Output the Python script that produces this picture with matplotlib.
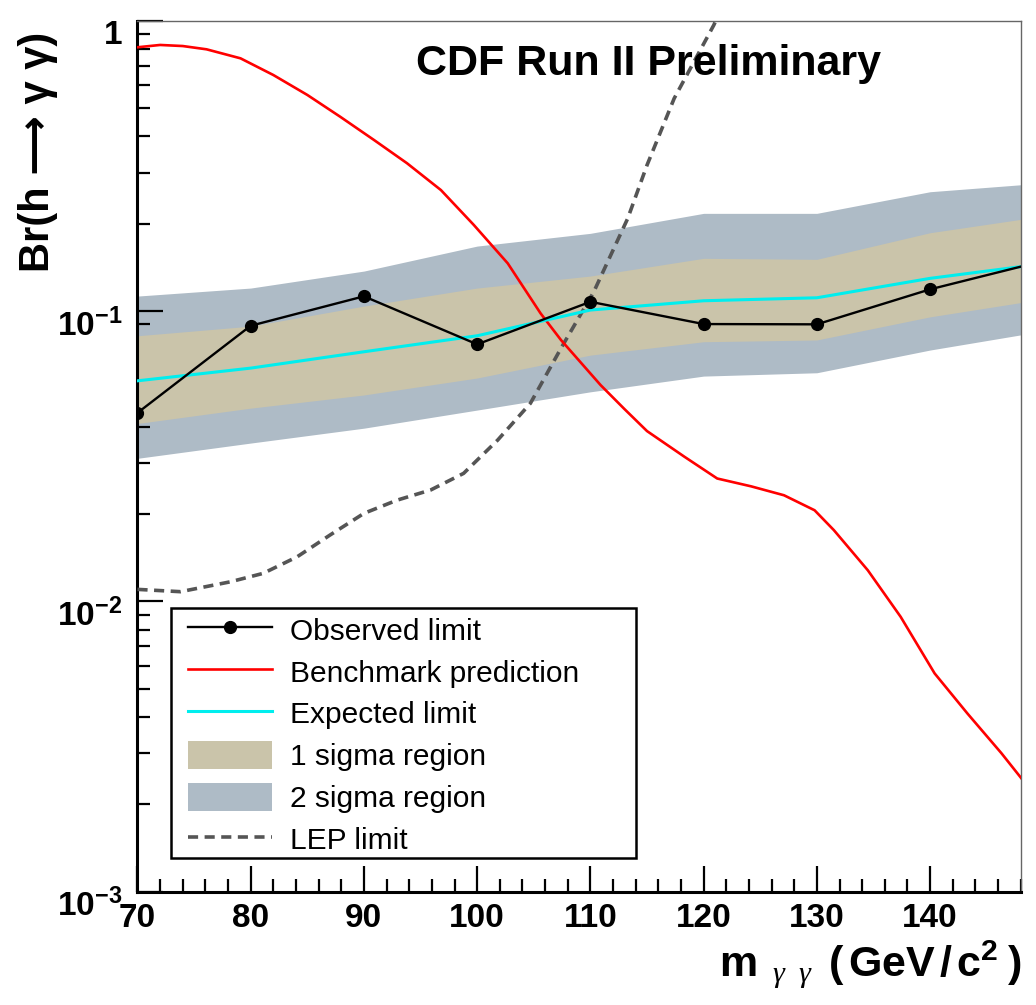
import matplotlib
matplotlib.use('Agg')
from matplotlib import pyplot as plt
from matplotlib import ticker, transforms
from matplotlib.patches import Rectangle
import numpy as np

plt.rcParams['font.family'] = ['Liberation Sans', 'DejaVu Sans']
plt.rcParams['mathtext.fontset'] = 'custom'
plt.rcParams['mathtext.rm'] = 'Liberation Sans'
plt.rcParams['mathtext.bf'] = 'Liberation Sans:bold'
plt.rcParams['mathtext.it'] = 'Liberation Serif:italic'

# limits read at the 10 GeV points (150 lies just past the right edge)
mass = [70, 80, 90, 100, 110, 120, 130, 140, 150]
observed = [0.0446, 0.0890, 0.1124, 0.0768, 0.1076, 0.0902, 0.0900, 0.1188, 0.1487]
expected = [0.0575, 0.0636, 0.0724, 0.0822, 0.1008, 0.1085, 0.1111, 0.1296, 0.1455]
one_sig_lo = [0.0410, 0.0463, 0.0514, 0.0588, 0.0705, 0.0784, 0.0795, 0.0955, 0.1100]
one_sig_hi = [0.0822, 0.0887, 0.1040, 0.1200, 0.1320, 0.1519, 0.1507, 0.1861, 0.2124]
two_sig_lo = [0.0311, 0.0351, 0.0395, 0.0456, 0.0527, 0.0597, 0.0613, 0.0734, 0.0853]
two_sig_hi = [0.1126, 0.1200, 0.1373, 0.1674, 0.1852, 0.2170, 0.2170, 0.2576, 0.2760]

# benchmark prediction curve
bench_mass = [70, 72, 74, 76.1, 79.1, 82, 85, 87.9, 90.9, 93.8, 96.8, 99.7, 102.7, 105.6,
              107.4, 110.9, 113, 115, 118.3, 121.2, 124.2, 127.1, 129.8, 131.5, 134.5,
              137.4, 140.4, 143.3, 146.3, 148.2]
bench = [0.810, 0.825, 0.818, 0.797, 0.742, 0.650, 0.555, 0.467, 0.388, 0.323, 0.261, 0.198,
         0.146, 0.0982, 0.0795, 0.0556, 0.0460, 0.0386, 0.0315, 0.0265, 0.0249, 0.0232, 0.0206,
         0.0176, 0.0128, 0.00885, 0.00565, 0.00411, 0.00300, 0.00242]

# LEP limit
lep_mass = [70, 73.8, 78.2, 81.1, 84.1, 87, 90, 92.9, 95.9, 98.8, 101.8, 104.7, 107.4,
            110.3, 113.3, 115, 117.4, 120.9, 122]
lep = [0.0110, 0.0108, 0.01168, 0.01249, 0.01424, 0.01692, 0.0201, 0.0223, 0.0242,
       0.0276, 0.0359, 0.0481, 0.0744, 0.1165, 0.2086, 0.318, 0.540, 0.966, 1.2]

xtick_vals = [70, 80, 90, 100, 110, 120, 130, 140]
ytick_vals = [1e-3, 1e-2, 1e-1, 1]
ytick_labels = [r'$\mathbf{10^{-3}}$', r'$\mathbf{10^{-2}}$', r'$\mathbf{10^{-1}}$', r'$\mathbf{1}$']

fig = plt.figure(figsize=(10.36, 10.05), dpi=100)
ax = fig.add_axes([0.1327, 0.1127, 0.8525, 0.8667])

ax.fill_between(mass, two_sig_lo, two_sig_hi, color='#aebbc6', lw=0, label='2 sigma region', zorder=1)
ax.fill_between(mass, one_sig_lo, one_sig_hi, color='#cac4aa', lw=0, label='1 sigma region', zorder=2)
ax.plot(lep_mass, lep, color='#555555', lw=2.6, dashes=(2.8, 1.8), label='LEP limit', zorder=3)
ax.plot(bench_mass, bench, color='#ff0000', lw=1.9, label='Benchmark prediction', zorder=4)
ax.plot(mass, expected, color='#00eeee', lw=2.2, label='Expected limit', zorder=5)
ax.plot(mass, observed, color='black', lw=1.7, marker='o', ms=8.5, label='Observed limit', zorder=6)

ax.set_yscale('log')
ax.set_xlim(70, 148)
ax.set_ylim(1e-3, 1)

ax.xaxis.set_major_locator(ticker.FixedLocator(xtick_vals))
ax.xaxis.set_minor_locator(ticker.MultipleLocator(2))
ax.set_xticklabels([str(v) for v in xtick_vals], fontsize=24, fontweight='bold')
ax.yaxis.set_major_locator(ticker.FixedLocator(ytick_vals))
ax.yaxis.set_minor_locator(ticker.LogLocator(base=10, subs=np.arange(2, 10)))
ax.yaxis.set_minor_formatter(ticker.NullFormatter())
ax.set_yticklabels(ytick_labels, fontsize=24)

ax.tick_params(which='both', direction='in', top=False, right=False, width=1.6)
ax.tick_params(which='major', length=19)
ax.tick_params(which='minor', length=9.5)
ax.tick_params(axis='x', pad=8)
ax.tick_params(axis='y', pad=11)

for side in ['left', 'bottom']:
    ax.spines[side].set_linewidth(2.2)
for side in ['top', 'right']:
    ax.spines[side].set_linewidth(1.0)
    ax.spines[side].set_color('#666666')

# ROOT puts the y labels a little below their ticks
offset = transforms.ScaledTranslation(0, -0.11, fig.dpi_scale_trans)
for t in ax.yaxis.get_major_ticks():
    t.label1.set_transform(t.label1.get_transform() + offset)

ax.text(0.5786, 0.9377, 'CDF Run II Preliminary', transform=ax.transAxes,
        ha='center', va='baseline', fontsize=31, fontweight='bold')

fig.text(38 / 1036, 1 - 32 / 1005, 'Br(h \u27f6 \u03b3 \u03b3)',
         rotation=90, ha='center', va='top', fontsize=30, fontweight='bold')
fig.text(1021.7 / 1036, 1 - 976 / 1005,
         r'$\mathbf{m}_{\ \ \gamma\ \ \gamma\ }\ \mathbf{(\,GeV\,/\,c^{2}\;)}$',
         ha='right', va='baseline', fontsize=31)

# legend box drawn separately so the entries can sit where ROOT put them
ax.add_patch(Rectangle((0.0376, 0.0383), 0.5268, 0.2871, transform=ax.transAxes,
                       facecolor='white', edgecolor='black', lw=1.8, zorder=7))
handles, labels = ax.get_legend_handles_labels()
order = ['Observed limit', 'Benchmark prediction', 'Expected limit',
         '1 sigma region', '2 sigma region', 'LEP limit']
hmap = dict(zip(labels, handles))
leg = ax.legend([hmap[k] for k in order], order, loc='upper left',
                bbox_to_anchor=(0.0572, 0.3175), frameon=False,
                fontsize=21.5, borderpad=0, labelspacing=0.38,
                handlelength=2.8, handleheight=1.1,
                handletextpad=0.6, borderaxespad=0)
leg.set_zorder(8)

fig.savefig('out.png', dpi=100)
